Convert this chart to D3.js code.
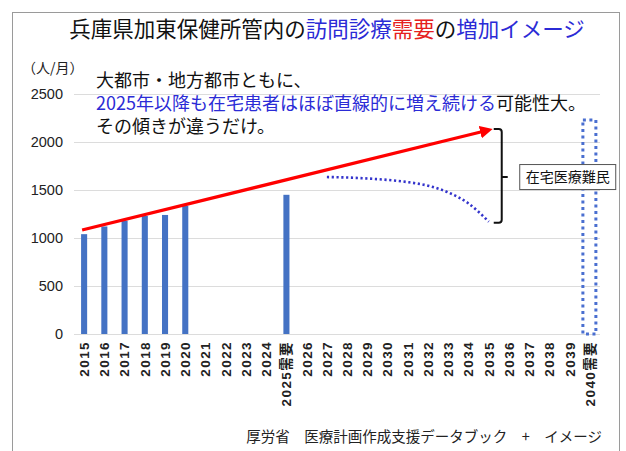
<!DOCTYPE html>
<html><head><meta charset="utf-8">
<script src="https://cdn.jsdelivr.net/npm/d3@7"></script>
<style>
html,body{margin:0;padding:0;background:#fff;}
svg{display:block;}
</style>
</head><body>
<svg id="c" width="626" height="451"></svg>
<script>
// ---- data ----
const categories = ["2015","2016","2017","2018","2019","2020","2021","2022","2023","2024","2025需要",
  "2026","2027","2028","2029","2030","2031","2032","2033","2034","2035","2036","2037","2038","2039","2040需要"];
const barCategories = ["2015","2016","2017","2018","2019","2020","2025需要"];
const barValues = [1040, 1120, 1180, 1230, 1240, 1335, 1450];
const demand2040Category = "2040需要";
const demand2040Value = 2230;
const trendCategories = ["2015","2035"];
const trendValues = [1083, 2125];
const curveCategories = ["2027","2028","2029","2030","2031","2032","2033","2034","2035"];
const curveValues = [1635, 1630, 1620, 1605, 1582, 1545, 1475, 1360, 1170];
const yTicks = [0, 500, 1000, 1500, 2000, 2500];

const svg = d3.select("#c");
const CJK = "'Noto Sans CJK JP', 'Noto Sans', sans-serif";
const LAT = "'Liberation Sans', Arial, 'Noto Sans CJK JP', sans-serif";

// frame
svg.append("rect").attr("x",12.5).attr("y",12.5).attr("width",607).attr("height",445)
  .attr("fill","#fff").attr("stroke","#9a9a9a").attr("stroke-width",1);

// title
const title = svg.append("text").attr("x",327).attr("y",37).attr("text-anchor","middle")
  .style("font-family",CJK).style("font-size","21.5px");
[["兵庫県加東保健所管内の","#111"],["訪問診療","#2b2bd6"],["需要","#e52020"],["の","#111"],["増加イメージ","#2b2bd6"]]
  .forEach(([t,c]) => title.append("tspan").attr("fill",c).text(t));

// scales
const x = d3.scaleBand().domain(categories).range([74, 600]).paddingInner(0.7).paddingOuter(0.35);
const y = d3.scaleLinear().domain([0, 2500]).range([334, 94]);
const cx = c => x(c) + x.bandwidth()/2;

// gridlines
svg.append("g").selectAll("line").data(yTicks).join("line")
  .attr("x1",74).attr("x2",600).attr("y1",d=>y(d)+0.5).attr("y2",d=>y(d)+0.5)
  .attr("stroke","#dcdcdc").attr("stroke-width",1);

// y axis labels
svg.append("g").selectAll("text").data(yTicks).join("text")
  .attr("x",63).attr("y",d=>y(d)).attr("dy","0.36em").attr("text-anchor","end")
  .style("font-family",LAT).style("font-size","14.5px").attr("fill","#222").text(d=>d);

// unit
svg.append("text").attr("x",22).attr("y",73).style("font-family",CJK).style("font-size","14px")
  .attr("fill","#222").text("（人/月）");

// x labels
svg.append("g").selectAll("text").data(categories).join("text")
  .attr("transform",d=>`translate(${cx(d)},341) rotate(-90)`)
  .attr("text-anchor","end").attr("dy","0.36em")
  .style("font-family",LAT).style("font-size","13.5px").style("font-weight","bold")
  .style("letter-spacing","1.4px")
  .attr("fill","#222").text(d=>d);

// bars
svg.append("g").selectAll("rect").data(barCategories.map((c,i)=>({c,v:barValues[i]}))).join("rect")
  .attr("x",d=>x(d.c)).attr("width",x.bandwidth())
  .attr("y",d=>y(d.v)).attr("height",d=>y(0)-y(d.v)).attr("fill","#4472c4");

// 2040 dotted bar
svg.append("rect").attr("x",cx(demand2040Category)-7).attr("width",13)
  .attr("y",y(demand2040Value)).attr("height",y(0)-y(demand2040Value))
  .attr("fill","none").attr("stroke","#4a6fd0").attr("stroke-width",3)
  .attr("stroke-dasharray","3,3.5");

// red trend arrow
svg.append("defs").append("marker").attr("id","ah").attr("viewBox","0 0 10 10")
  .attr("refX",2).attr("refY",5).attr("markerWidth",4).attr("markerHeight",4)
  .attr("orient","auto").append("path").attr("d","M0,0 L10,5 L0,10 z").attr("fill","#ff0000");
const tl = trendCategories.map((c,i)=>[cx(c),y(trendValues[i])]);
tl[0][0] -= 2;
svg.append("line").attr("x1",tl[0][0]).attr("y1",tl[0][1]).attr("x2",tl[1][0]-6).attr("y2",tl[1][1]+1.5)
  .attr("stroke","#ff0000").attr("stroke-width",3.2).attr("marker-end","url(#ah)");

// blue dotted curve
const line = d3.line().x(d=>d[0]).y(d=>d[1]).curve(d3.curveMonotoneX);
svg.append("path").datum(curveCategories.map((c,i)=>[cx(c),y(curveValues[i])]))
  .attr("d",line).attr("fill","none").attr("stroke","#3434cc").attr("stroke-width",2.6)
  .attr("stroke-dasharray","2.2,2.6");

// bracket
const bx = cx("2035")+5, bTop = y(trendValues[1])-1, bBot = y(curveValues[curveValues.length-1])+1;
const bMid = y(curveValues[0]);
const bw = 8;
svg.append("path")
  .attr("d",`M${bx},${bTop} L${bx+bw-3},${bTop} Q${bx+bw},${bTop} ${bx+bw},${bTop+3} L${bx+bw},${bBot-3} Q${bx+bw},${bBot} ${bx+bw-3},${bBot} L${bx},${bBot} M${bx+bw},${bMid} L${bx+bw+6},${bMid}`)
  .attr("fill","none").attr("stroke","#111").attr("stroke-width",2);

// label box
const lbx = bx+26;
svg.append("rect").attr("x",lbx).attr("y",bMid-12.5).attr("width",96).attr("height",25)
  .attr("fill","#fff").attr("stroke","#555").attr("stroke-width",1);
svg.append("text").attr("x",lbx+48).attr("y",bMid).attr("dy","0.36em").attr("text-anchor","middle")
  .style("font-family",CJK).style("font-size","14px").attr("fill","#111").text("在宅医療難民");

// annotation
const ann = svg.append("g").style("font-family",CJK).style("font-size","18px");
ann.append("text").attr("x",96).attr("y",87).attr("fill","#111").text("大都市・地方都市ともに、");
const l2 = ann.append("text").attr("x",96).attr("y",110);
l2.append("tspan").attr("fill","#2b2bd6").text("2025年以降も在宅患者はほぼ直線的に増え続ける");
l2.append("tspan").attr("fill","#111").text("可能性大。");
ann.append("text").attr("x",96).attr("y",133).attr("fill","#111").text("その傾きが違うだけ。");

// source
svg.append("text").attr("x",602).attr("y",442).attr("text-anchor","end")
  .style("font-family",CJK).style("font-size","14.5px").attr("fill","#222")
  .text("厚労省　医療計画作成支援データブック　+　イメージ");
</script>
</body></html>
